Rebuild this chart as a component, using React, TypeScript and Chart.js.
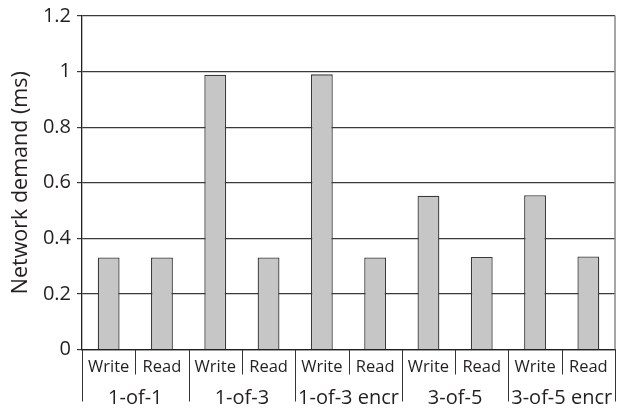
import React, { useEffect, useRef } from "react";
import { Chart, registerables } from "chart.js";

Chart.register(...registerables);

const groups = ["1-of-1", "1-of-3", "1-of-3 encr", "3-of-5", "3-of-5 encr"];
const subLabels = ["Write", "Read"];
const writeValues = [0.331, 0.989, 0.99, 0.553, 0.555];
const readValues = [0.331, 0.331, 0.331, 0.333, 0.335];
const yTitle = "Network demand (ms)";
const FONT = "'Open Sans', 'Liberation Sans', sans-serif";

const labels: string[] = [];
const values: number[] = [];
groups.forEach((g, i) => {
  labels.push(g + " " + subLabels[0]);
  values.push(writeValues[i]);
  labels.push(g + " " + subLabels[1]);
  values.push(readValues[i]);
});

const axisLabelsPlugin = {
  id: "axisLabels",
  afterDraw(chart: any) {
    const { ctx, chartArea, scales } = chart;
    const xs = scales.x;
    const n = labels.length;
    const w = (chartArea.right - chartArea.left) / n;
    const bottom = chartArea.bottom;
    ctx.save();
    // right border
    ctx.strokeStyle = "#888";
    ctx.lineWidth = 1.5;
    ctx.beginPath();
    ctx.moveTo(chartArea.right, chartArea.top - 0.5);
    ctx.lineTo(chartArea.right, bottom);
    ctx.stroke();
    // separators
    ctx.strokeStyle = "#333";
    ctx.lineWidth = 1;
    for (let i = 0; i <= n; i++) {
      const x = Math.round(chartArea.left + i * w) + 0.5;
      const len = i % 2 === 0 ? 52 : 25;
      ctx.beginPath();
      ctx.moveTo(x, bottom);
      ctx.lineTo(x, bottom + len);
      ctx.stroke();
    }
    // sub labels
    ctx.fillStyle = "#231f20";
    ctx.textAlign = "center";
    ctx.textBaseline = "middle";
    ctx.font = `16.5px ${FONT}`;
    for (let i = 0; i < n; i++) {
      const x = xs.getPixelForValue(i);
      ctx.fillText(subLabels[i % 2], x, bottom + 18);
    }
    ctx.font = `20px ${FONT}`;
    groups.forEach((g, gi) => {
      const x = chartArea.left + (gi * 2 + 1) * w;
      ctx.fillText(g, x, bottom + 49);
    });
    ctx.restore();
  },
};

export default function App() {
  const ref = useRef<HTMLCanvasElement>(null);
  useEffect(() => {
    if (!ref.current) return;
    const chart = new Chart(ref.current, {
      type: "bar",
      data: {
        labels,
        datasets: [
          {
            data: values,
            backgroundColor: "#c6c6c6",
            borderColor: "#3a3a3a",
            borderWidth: 1.3,
            barPercentage: 0.41,
            categoryPercentage: 1,
          },
        ],
      },
      options: {
        responsive: false,
        animation: false,
        layout: { padding: { top: 15, right: 2, left: 0, bottom: 0 } },
        plugins: { legend: { display: false }, tooltip: { enabled: false } },
        scales: {
          x: {
            ticks: { display: false },
            grid: { display: false },
            border: { color: "#231f20", width: 1.3 },
            afterFit: (s: any) => {
              s.height = 59.5;
            },
          },
          y: {
            min: 0,
            max: 1.2,
            ticks: {
              stepSize: 0.2,
              padding: 6,
              color: "#231f20",
              font: { family: FONT, size: 20, lineHeight: 1 },
              callback: (v: any) => String(Math.round(v * 10) / 10),
            },
            grid: { color: "#3a3a3a", lineWidth: 1.2, tickLength: 5 },
            border: { color: "#231f20", width: 1.3 },
            title: {
              display: true,
              text: yTitle,
              color: "#231f20",
              font: { family: FONT, size: 21.5 },
              padding: { top: 8, bottom: 0 },
            },
            afterFit: (s: any) => {
              s.width = 82;
            },
          },
        },
      },
      plugins: [axisLabelsPlugin],
    });
    return () => chart.destroy();
  }, []);
  return (
    <div style={{ position: "fixed", left: 0, top: 0, width: 617, height: 409, background: "#fff" }}>
      <canvas ref={ref} width={617} height={409} />
    </div>
  );
}
